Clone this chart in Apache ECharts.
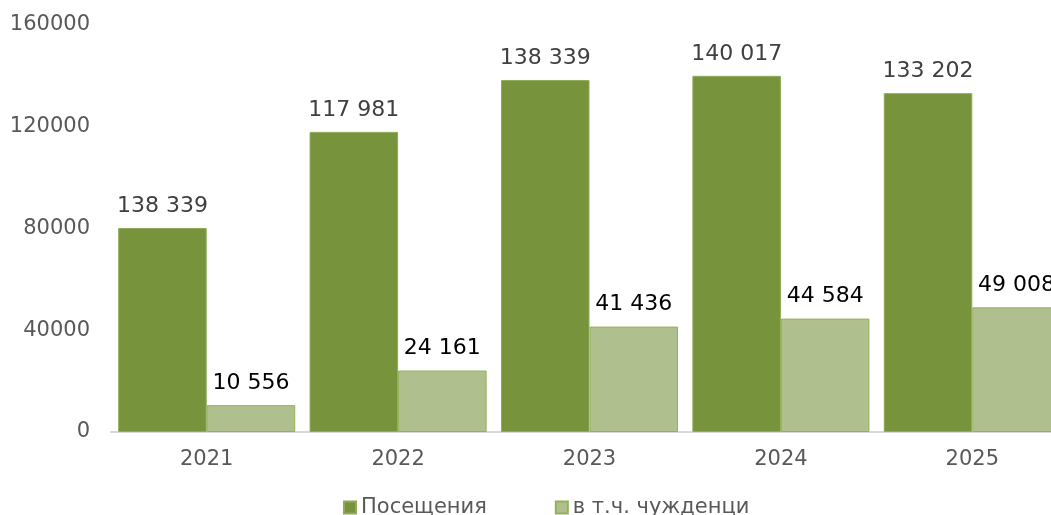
<!DOCTYPE html>
<html>
<head>
<meta charset="utf-8">
<script src="https://cdn.jsdelivr.net/npm/echarts@6/dist/echarts.min.js"></script>
<style>
  html, body { margin: 0; padding: 0; background: #fff; overflow: hidden; }
  /* chart is a bit wider than the window: last bar is cut off on the right */
  #chart { width: 1068px; height: 515px; }
</style>
</head>
<body>
<div id="chart"></div>
<script>
const years = ['2021', '2022', '2023', '2024', '2025']
// bar heights as drawn
const visits = [80200, 117981, 138339, 140017, 133202]
const foreigners = [10556, 24161, 41436, 44584, 49008]
// labels as printed on the chart
const visitsLabels = ['138 339', '117 981', '138 339', '140 017', '133 202']
const foreignersLabels = ['10 556', '24 161', '41 436', '44 584', '49 008']

const font = 'DejaVu Sans'
let myChart = echarts.init(document.getElementById('chart'))
myChart.setOption({
  animation: false,
  textStyle: { fontFamily: font },
  grid: { left: 111, right: 0, top: 25, bottom: 83 },
  legend: {
    bottom: -8,
    left: 338,
    itemWidth: 12,
    itemHeight: 12,
    itemGap: 68,
    icon: 'rect',
    textStyle: { fontFamily: font, fontSize: 21, color: '#595959' },
    data: ['Посещения', 'в т.ч. чужденци']
  },
  xAxis: {
    type: 'category',
    data: years,
    axisLine: { lineStyle: { color: '#d9d9d9', width: 2 } },
    axisTick: { show: false },
    axisLabel: { fontFamily: font, fontSize: 21, color: '#595959', margin: 17 }
  },
  yAxis: {
    type: 'value',
    min: 0,
    max: 160000,
    interval: 40000,
    splitLine: { show: false },
    axisLabel: {
      fontFamily: font,
      fontSize: 21,
      color: '#595959',
      margin: 21,
      formatter: v => String(v)
    }
  },
  series: [
    {
      name: 'Посещения',
      type: 'bar',
      data: visits,
      barGap: '0%',
      barCategoryGap: '7.5%',
      itemStyle: { color: '#77933c', borderColor: '#8fab58', borderWidth: 1 },
      label: {
        show: true,
        position: 'top',
        distance: 11,
        fontFamily: font,
        fontSize: 22,
        color: '#404040',
        formatter: p => visitsLabels[p.dataIndex]
      }
    },
    {
      name: 'в т.ч. чужденци',
      type: 'bar',
      data: foreigners,
      itemStyle: { color: '#afbf8d', borderColor: '#93b258', borderWidth: 1 },
      label: {
        show: true,
        position: 'top',
        distance: 11,
        fontFamily: font,
        fontSize: 22,
        color: '#000',
        formatter: p => foreignersLabels[p.dataIndex]
      }
    }
  ]
})
</script>
</body>
</html>
